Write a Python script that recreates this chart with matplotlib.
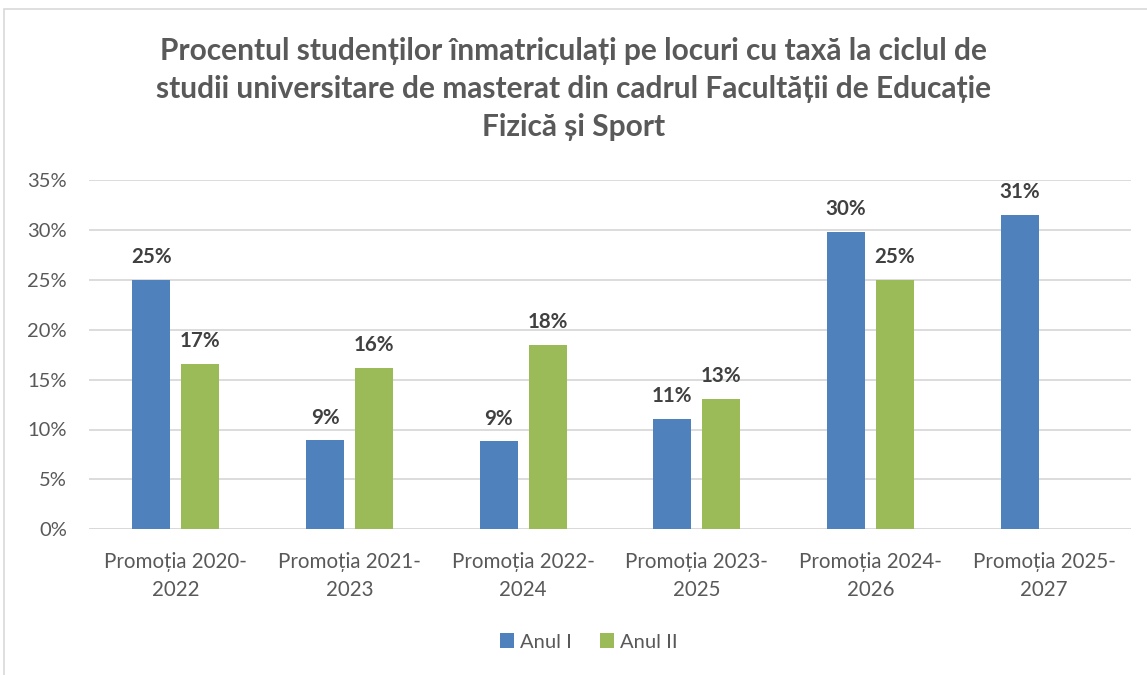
import matplotlib
matplotlib.use("Agg")
import matplotlib.pyplot as plt
import numpy as np
from matplotlib.patches import Rectangle

categories = ["Promoția 2020-\n2022", "Promoția 2021-\n2023", "Promoția 2022-\n2024",
              "Promoția 2023-\n2025", "Promoția 2024-\n2026", "Promoția 2025-\n2027"]
anul_i = [25.0, 8.9, 8.8, 11.1, 29.8, 31.5]
anul_ii = [16.6, 16.2, 18.5, 13.1, 25.0, np.nan]
labels_i = ["25%", "9%", "9%", "11%", "30%", "31%"]
labels_ii = ["17%", "16%", "18%", "13%", "25%", ""]
yticks = [0, 5, 10, 15, 20, 25, 30, 35]
title = ("Procentul studenților înmatriculați pe locuri cu taxă la ciclul de\n"
         "studii universitare de masterat din cadrul Facultății de Educație\n"
         "Fizică și Sport")

plt.rcParams['font.family'] = ['Lato', 'DejaVu Sans']
blue = "#4F81BD"
green = "#9BBB59"
txt = "#595959"

fig = plt.figure(figsize=(11.47, 6.75), dpi=100)
fig.patches.append(Rectangle((4/1147, -0.1), 1.2, 1 - 9/675 + 0.1, transform=fig.transFigure,
                             fill=False, edgecolor="#D9D9D9", linewidth=1.2))
ax = fig.add_axes([89/1147, 1 - 529.3/675, (1131 - 89)/1147, (529.3 - 180)/675])

x = np.arange(len(categories))
w = 0.219
off = 0.141
b1 = ax.bar(x - off, anul_i, w, color=blue, label="Anul I", zorder=3)
b2 = ax.bar(x + off, anul_ii, w, color=green, label="Anul II", zorder=3)

for rect, lab in zip(b1, labels_i):
    ax.annotate(lab, (rect.get_x() + rect.get_width()/2, rect.get_height()),
                xytext=(0, 9), textcoords="offset points", ha="center", va="bottom",
                fontsize=14.8, fontweight="bold", color="#404040")
for rect, lab, v in zip(b2, labels_ii, anul_ii):
    if lab and not np.isnan(v):
        ax.annotate(lab, (rect.get_x() + rect.get_width()/2, v),
                    xytext=(0, 9), textcoords="offset points", ha="center", va="bottom",
                    fontsize=14.8, fontweight="bold", color="#404040")

ax.set_xlim(-0.5, len(categories) - 0.5)
ax.set_ylim(0, 35)
ax.set_yticks(yticks)
ax.set_yticklabels([f"{t}%" for t in yticks])
ax.set_xticks(x)
ax.set_xticklabels(categories, linespacing=1.55)
ax.tick_params(axis="y", length=0, pad=16, labelsize=14.5, labelcolor=txt)
ax.tick_params(axis="x", length=0, pad=16, labelsize=14.8, labelcolor=txt)
ax.grid(axis="y", color="#D9D9D9", linewidth=1.3, zorder=0)
for s in ["top", "right", "left", "bottom"]:
    ax.spines[s].set_visible(False)
ax.axhline(0, color="#D9D9D9", linewidth=1.3, zorder=1)

fig.text(0.5, 1 - 89/675, title, ha="center", va="center", fontsize=21.5,
         fontweight="bold", color=txt, linespacing=1.45)

fig.legend(handles=[b1, b2], labels=["Anul I", "Anul II"], loc="center",
           bbox_to_anchor=(589/1147, 1 - 642/675), ncol=2, frameon=False,
           fontsize=14.5, handlelength=0.7, handleheight=0.7, handletextpad=0.3,
           columnspacing=1.4, labelcolor=txt)

fig.savefig("out.png", dpi=100)
